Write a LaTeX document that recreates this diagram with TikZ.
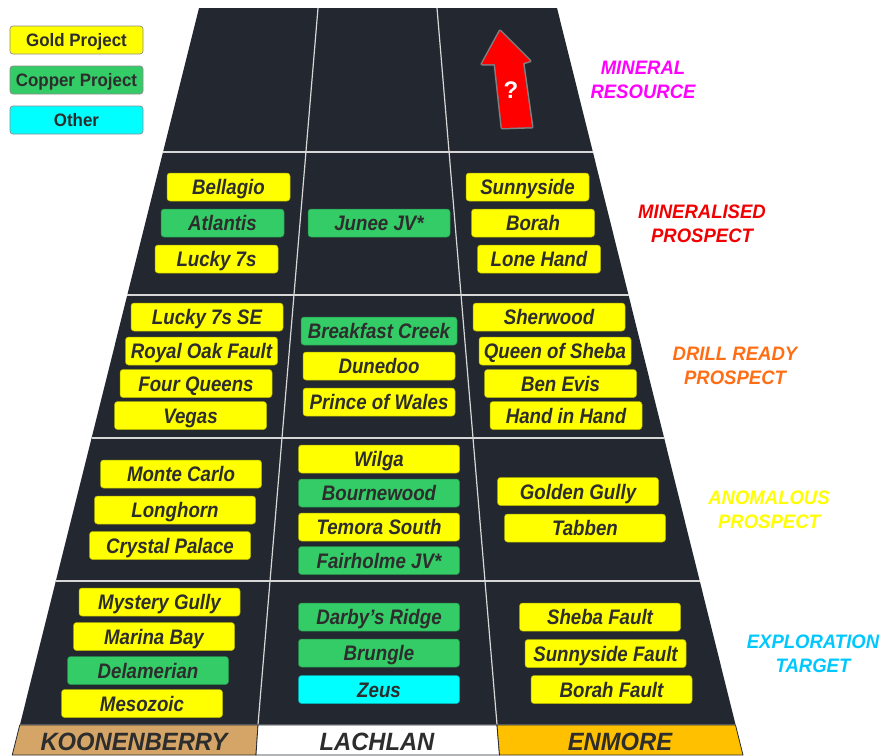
\documentclass[tikz,border=0pt]{standalone}
\usepackage{fontspec}
\setmainfont{Liberation Sans}
\newfontfamily\condfont{Liberation Sans}[FakeStretch=0.89]
\newfontfamily\legfont{Liberation Sans}[FakeStretch=0.94]
\newfontfamily\tagfont{Liberation Sans}[FakeStretch=0.95]
\definecolor{panel}{RGB}{35,40,48}
\definecolor{divline}{RGB}{215,215,215}
\definecolor{goldy}{RGB}{255,255,0}
\definecolor{copperg}{RGB}{51,204,102}
\definecolor{cyanc}{RGB}{0,255,255}
\definecolor{inkgray}{RGB}{45,45,45}
\definecolor{koon}{RGB}{212,165,103}
\definecolor{enm}{RGB}{255,192,0}
\definecolor{magentatag}{RGB}{255,0,255}
\definecolor{redtag}{RGB}{240,0,0}
\definecolor{orangetag}{RGB}{255,110,20}
\definecolor{yellowtag}{RGB}{255,255,0}
\definecolor{bluetag}{RGB}{0,200,255}
\begin{document}
\begin{tikzpicture}[x=1pt,y=-1pt,
  pbox/.style={rounded corners=3pt, minimum height=28pt, inner sep=0pt,
    text height=15pt, text depth=0pt, text=inkgray, line width=0.5pt,
    font=\condfont\bfseries\itshape\fontsize{21}{24}\selectfont},
  goldbox/.style={pbox, fill=goldy, draw=goldy!70!black},
  copperbox/.style={pbox, fill=copperg, draw=copperg!70!black},
  otherbox/.style={pbox, fill=cyanc, draw=cyanc!70!black},
  wa/.style={minimum width=123pt},
  wb/.style={minimum width=152pt},
  wc/.style={minimum width=161pt},
  legbox/.style={rounded corners=3pt, minimum width=133pt, minimum height=28pt,
    inner sep=0pt, text height=13pt, text depth=0pt, text=inkgray,
    draw=black!45, line width=0.7pt,
    font=\legfont\bfseries\fontsize{18}{20}\selectfont},
  tag/.style={align=center, font=\tagfont\bfseries\itshape\fontsize{19.5}{24}\selectfont},
  band/.style={draw=panel, line width=0.8pt},
  bandtext/.style={text=inkgray, text height=18pt, text depth=0pt, inner sep=0pt,
    font=\tagfont\bfseries\itshape\fontsize{25}{28}\selectfont},
  divider/.style={draw=divline, line width=1.2pt}
]
\useasboundingbox (0,0) rectangle (882,755);

% corners of the funnel
\coordinate (tl) at (199,8);
\coordinate (tr) at (557,8);
\coordinate (bl) at (20,724.5);
\coordinate (br) at (735.5,724.5);
\fill[panel] (tl) -- (tr) -- (br) -- (bl) -- cycle;

% stage boundaries
\draw[divider] (163,152) -- (592.9,152);
\draw[divider] (127.25,295) -- (628.5,295);
\draw[divider] (91.5,438) -- (664.1,438);
\draw[divider] (55.75,581) -- (699.7,581);
% region boundaries
\draw[divider] (318,8) -- (258,724.5);
\draw[divider] (437,8) -- (497,724.5);

% region bands along the base
\filldraw[band, fill=koon] (19.75,725) -- (258,725) -- (256,755) -- (12.25,755) -- cycle;
\filldraw[band, fill=white] (258,725) -- (497,725) -- (499.5,755) -- (256,755) -- cycle;
\filldraw[band, fill=enm] (497,725) -- (735.5,725) -- (743,755) -- (499.5,755) -- cycle;
\node[bandtext] (koonenberry) at (134,741) {KOONENBERRY};
\node[bandtext] (lachlan) at (377,741) {LACHLAN};
\node[bandtext] (enmore) at (620,741) {ENMORE};

% legend
\node[legbox, fill=goldy] (lgold) at (76.5,40) {Gold Project};
\node[legbox, fill=copperg] (lcopper) at (76.5,80) {Copper Project};
\node[legbox, fill=cyanc] (lother) at (76.5,120) {Other};

% upward arrow with a question mark
\draw[gray!70, line width=3pt, line join=round, opacity=0.7]
  (500,31) -- (530,61) -- (523,63) -- (532,127) -- (502,128) -- (495,64) -- (482,64) -- cycle;
\fill[red] (500,31) -- (530,61) -- (523,63) -- (532,127) -- (502,128) -- (495,64) -- (482,64) -- cycle;
\node[text=white, font=\bfseries\fontsize{24}{26}\selectfont] (qmark) at (511,90) {?};

% stage names
\node[tag, text=magentatag] (mres) at (643,80) {MINERAL\\RESOURCE};
\node[tag, text=redtag] (mpro) at (702,224) {MINERALISED\\PROSPECT};
\node[tag, text=orangetag] (dpro) at (735,366) {DRILL READY\\PROSPECT};
\node[tag, text=yellowtag] (apro) at (769,509.5) {ANOMALOUS\\PROSPECT};
\node[tag, text=bluetag] (etgt) at (813,654) {EXPLORATION\\TARGET};

% mineralised prospects
\node[goldbox, wa] (bellagio) at (228.5,187) {Bellagio};
\node[copperbox, wa] (atlantis) at (222.5,223) {Atlantis};
\node[goldbox, wa] (luckysevens) at (216.5,259) {Lucky 7s};
\node[copperbox, minimum width=142pt] (junee) at (379,223) {Junee JV*};
\node[goldbox, wa] (sunnyside) at (527.5,187) {Sunnyside};
\node[goldbox, wa] (borah) at (533,223) {Borah};
\node[goldbox, wa] (lonehand) at (539,259) {Lone Hand};

% drill ready prospects
\node[goldbox, wb] (luckysevensse) at (207,317) {Lucky 7s SE};
\node[goldbox, wb] (royaloak) at (201.5,351) {Royal Oak Fault};
\node[goldbox, wb] (fourqueens) at (196,383.5) {Four Queens};
\node[goldbox, wb] (vegas) at (190.5,415.5) {Vegas};
\node[copperbox, wb, minimum width=156pt] (breakfast) at (379,331) {Breakfast Creek};
\node[goldbox, wb] (dunedoo) at (379,366) {Dunedoo};
\node[goldbox, wb] (princewales) at (379,402) {Prince of Wales};
\node[goldbox, wb] (sherwood) at (549,317) {Sherwood};
\node[goldbox, wb] (queensheba) at (555,351) {Queen of Sheba};
\node[goldbox, wb] (benevis) at (560.5,383.5) {Ben Evis};
\node[goldbox, wb] (handinhand) at (566,415.5) {Hand in Hand};

% anomalous prospects
\node[goldbox, wc] (montecarlo) at (181,474) {Monte Carlo};
\node[goldbox, wc] (longhorn) at (175,510) {Longhorn};
\node[goldbox, wc] (crystal) at (170,545.5) {Crystal Palace};
\node[goldbox, wc] (wilga) at (379,459) {Wilga};
\node[copperbox, wc] (bournewood) at (379,493) {Bournewood};
\node[goldbox, wc] (temora) at (379,527) {Temora South};
\node[copperbox, wc] (fairholme) at (379,560.5) {Fairholme JV*};
\node[goldbox, wc] (goldengully) at (578,491.5) {Golden Gully};
\node[goldbox, wc] (tabben) at (585,528) {Tabben};

% exploration targets
\node[goldbox, wc] (mystery) at (159.5,602) {Mystery Gully};
\node[goldbox, wc] (marina) at (154,636.5) {Marina Bay};
\node[copperbox, wc] (delamerian) at (148,670.5) {Delamerian};
\node[goldbox, wc] (mesozoic) at (142,703.5) {Mesozoic};
\node[copperbox, wc] (darbys) at (379,617) {Darby’s Ridge};
\node[copperbox, wc] (brungle) at (379,653) {Brungle};
\node[otherbox, wc] (zeus) at (379,689.5) {Zeus};
\node[goldbox, wc] (shebafault) at (600,617) {Sheba Fault};
\node[goldbox, wc] (sunnysidefault) at (605.5,653.5) {Sunnyside Fault};
\node[goldbox, wc] (borahfault) at (611.5,689.5) {Borah Fault};
\end{tikzpicture}
\end{document}
